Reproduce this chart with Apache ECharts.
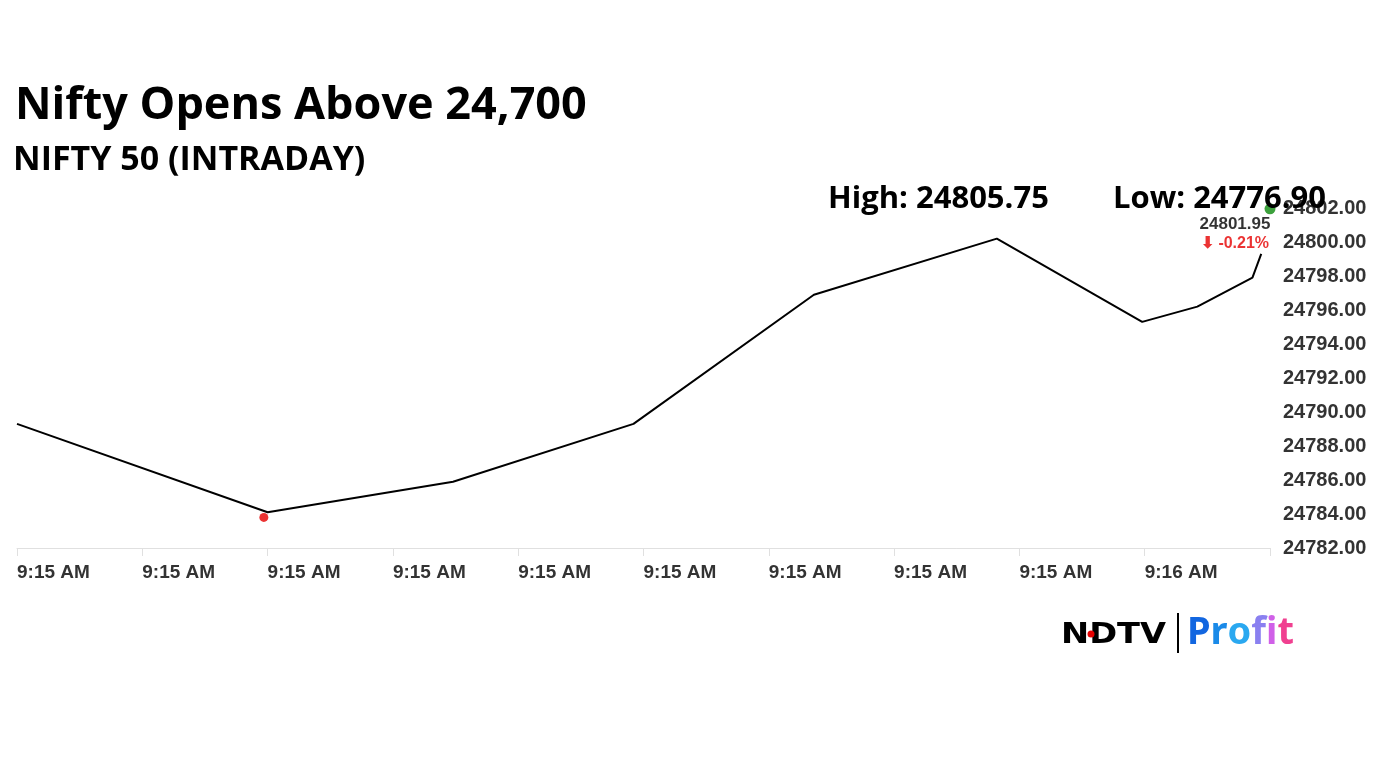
<!DOCTYPE html>
<html>
<head>
<meta charset="utf-8">
<title>Nifty Opens Above 24,700</title>
<script src="https://cdn.jsdelivr.net/npm/echarts@6/dist/echarts.min.js"></script>
<style>
  html, body { margin: 0; padding: 0; background: #fff; }
  #chart { width: 1382px; height: 777px; }
</style>
</head>
<body>
<div id="chart"></div>
<script>
// chart data
const tickLabels = ['9:15 AM', '9:15 AM', '9:15 AM', '9:15 AM', '9:15 AM', '9:15 AM', '9:15 AM', '9:15 AM', '9:15 AM', '9:16 AM', ''];
const times = [0, 2.0, 3.48, 4.92, 6.36, 7.82, 8.98, 9.42, 9.86, 9.93];
const prices = [24789.3, 24784.1, 24785.9, 24789.3, 24796.9, 24800.2, 24795.3, 24796.2, 24797.9, 24799.3];
const lowMark = [1.97, 24783.8];
const lastMark = [10, 24801.95];
const lastChange = '-0.21%';
const dayHigh = '24805.75';
const dayLow = '24776.90';

const chart = echarts.init(document.getElementById('chart'));

const titleFont = '"Open Sans", "Noto Sans", sans-serif';
const axisFont = '"Liberation Sans", Arial, sans-serif';

// colours of the letters in the logo word
const profitColors = ['#1266e0', '#1a8ae8', '#2aa8f0', '#8a80f0', '#d060e8', '#f04090'];
const profitRich = {};
profitColors.forEach((c, i) => {
  profitRich['p' + i] = { fill: c, font: 'bold 38px "Noto Sans", sans-serif' };
});

const option = {
  backgroundColor: '#fff',
  animation: false,
  title: [
    {
      text: 'Nifty Opens Above 24,700',
      left: 10,
      top: 79,
      textStyle: { fontFamily: titleFont, fontWeight: 'bold', fontSize: 45, color: '#000' }
    },
    {
      text: 'NIFTY 50 (INTRADAY)',
      left: 8,
      top: 138,
      textStyle: { fontFamily: titleFont, fontWeight: 'bold', fontSize: 34, color: '#000' }
    },
    {
      text: 'High: ' + dayHigh,
      left: 823,
      top: 179,
      textStyle: { fontFamily: titleFont, fontWeight: 'bold', fontSize: 31, color: '#000' }
    },
    {
      text: 'Low: ' + dayLow,
      left: 1108,
      top: 179,
      textStyle: { fontFamily: titleFont, fontWeight: 'bold', fontSize: 31, color: '#000' }
    }
  ],
  grid: {
    left: 17,
    right: 112,
    top: 208,
    bottom: 229
  },
  xAxis: {
    type: 'value',
    min: 0,
    max: 10,
    interval: 1,
    axisLine: { show: true, lineStyle: { color: '#e0e0e0', width: 1 } },
    axisTick: { show: true, length: 8, lineStyle: { color: '#e0e0e0' } },
    splitLine: { show: false },
    axisLabel: {
      align: 'left',
      margin: 15,
      fontFamily: axisFont,
      fontWeight: 'bold',
      fontSize: 19,
      color: '#333',
      formatter: (v) => tickLabels[Math.round(v)] || ''
    }
  },
  yAxis: {
    type: 'value',
    position: 'right',
    min: 24782,
    max: 24802,
    interval: 2,
    axisLine: { show: false },
    axisTick: { show: false },
    splitLine: { show: false },
    axisLabel: {
      margin: 13,
      fontFamily: axisFont,
      fontWeight: 'bold',
      fontSize: 20,
      color: '#333',
      formatter: (v) => v.toFixed(2)
    }
  },
  series: [
    {
      name: 'NIFTY 50',
      type: 'line',
      data: times.map((t, i) => [t, prices[i]]),
      showSymbol: false,
      lineStyle: { color: '#000', width: 2 },
      z: 2
    },
    {
      name: 'low',
      type: 'scatter',
      data: [lowMark],
      symbolSize: 9,
      itemStyle: { color: '#e60000' },
      z: 3
    },
    {
      name: 'last',
      type: 'scatter',
      data: [lastMark],
      symbolSize: 11,
      itemStyle: { color: '#0c8a0c' },
      label: {
        show: true,
        position: 'inside',
        offset: [-35, 25],
        align: 'center',
        verticalAlign: 'middle',
        formatter: () => '{v|' + lastMark[1].toFixed(2) + '}\n{c|\u2B07 ' + lastChange + '}',
        rich: {
          v: { fontFamily: axisFont, fontWeight: 'bold', fontSize: 17, color: '#000', lineHeight: 20, align: 'center' },
          c: { fontFamily: axisFont, fontWeight: 'bold', fontSize: 16, color: '#e60000', lineHeight: 20, align: 'center' }
        }
      },
      z: 4
    }
  ],
  graphic: [
    {
      type: 'text',
      x: 1061,
      y: 621,
      scaleX: 1.16,
      style: {
        text: 'NDTV',
        font: 'bold 29px "DejaVu Sans", sans-serif',
        fill: '#000'
      }
    },
    {
      type: 'circle',
      shape: { cx: 1091, cy: 634, r: 3.5 },
      style: { fill: '#e60000' }
    },
    {
      type: 'rect',
      shape: { x: 1177, y: 613, width: 2, height: 40 },
      style: { fill: '#000' }
    },
    {
      type: 'text',
      x: 1187,
      y: 614,
      style: {
        text: 'Profit'.split('').map((ch, i) => '{p' + i + '|' + ch + '}').join(''),
        rich: profitRich,
        font: 'bold 38px "Noto Sans", sans-serif'
      }
    }
  ]
};

chart.setOption(option);
window.addEventListener('resize', () => chart.resize());
</script>
</body>
</html>
